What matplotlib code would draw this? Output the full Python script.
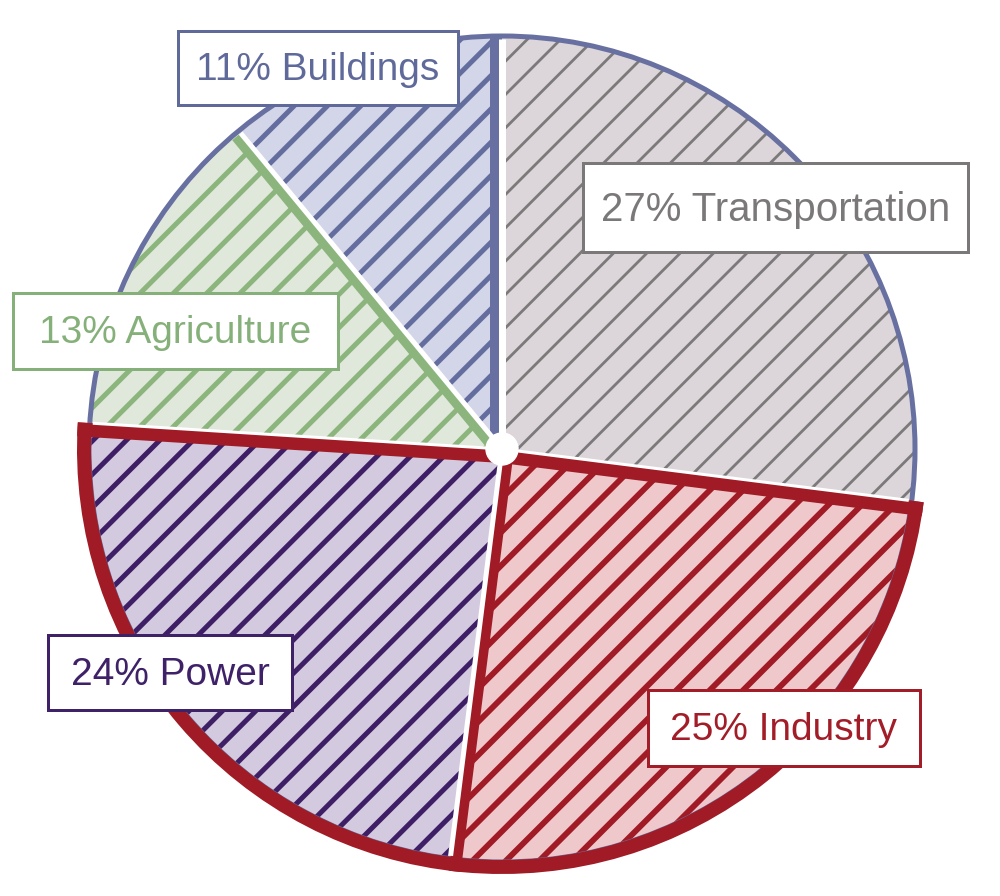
import numpy as np
import matplotlib
matplotlib.use("Agg")
import matplotlib.pyplot as plt
from matplotlib.patches import Wedge, Arc, Circle, Rectangle

# data, clockwise from 12 o'clock
sectors = ["Transportation", "Industry", "Power", "Agriculture", "Buildings"]
shares = [27, 25, 24, 13, 11]
fill_colors = ["#dcd6da", "#efc8cc", "#d3cadf", "#e0e8dc", "#d3d5e8"]
hatch_colors = ["#7b7979", "#a01b25", "#3e1f66", "#8cb57d", "#636d9e"]
label_colors = ["#7b7879", "#a21d28", "#3f2168", "#86b07a", "#5f6a9b"]

# layout (pixel coords, y measured from top like the picture)
W, H = 1000, 896
cx, cy = 502, H - 449
R = 412
hatch_lw = [2.0, 4.2, 3.6, 3.6, 3.6]
boxes = [(583, 163, 968, 252), (648, 690, 920, 766), (48, 635, 292, 710),
         (13, 293, 338, 369), (178, 31, 458, 105)]
font_sizes = [29, 28, 28, 28, 28]
red = "#a01b25"
blue = "#6770a0"
PX = 0.72  # px -> pt at dpi 100

plt.rcParams['font.family'] = ['Liberation Sans Narrow', 'Liberation Sans', 'DejaVu Sans']

fig = plt.figure(figsize=(W / 100, H / 100), dpi=100)
ax = fig.add_axes([0, 0, 1, 1])

# base fill
wedges, _ = ax.pie(shares, colors=fill_colors, startangle=90, counterclock=False,
                   radius=R, center=(cx, cy), wedgeprops=dict(linewidth=0))
ax.set_xlim(0, W)
ax.set_ylim(0, H)
ax.set_aspect("auto")
ax.axis("off")

# slice angles from the data
frac = np.cumsum([0] + shares) / sum(shares)
ang = 90 - 360 * frac  # boundaries
spans = [(ang[i + 1], ang[i]) for i in range(len(shares))]

# hatch layer, one wedge at a time so each gets its own line width
for (t1, t2), c, lw in zip(spans, hatch_colors, hatch_lw):
    with plt.rc_context({'hatch.linewidth': lw}):
        hw = Wedge((cx, cy), R, t1, t2, facecolor="none", edgecolor=c,
                   linewidth=0, hatch="/", zorder=2)
    ax.add_patch(hw)


def sector_clip(t1, t2, r):
    p = Wedge((cx, cy), r, t1, t2)
    p.set_transform(ax.transData)
    return p


def radial(angle, width_px, color, clip=None, r=440, z=3):
    t = np.deg2rad(angle)
    ln, = ax.plot([cx, cx + r * np.cos(t)], [cy, cy + r * np.sin(t)], color=color,
                  lw=width_px * PX, solid_capstyle="butt", zorder=z)
    if clip is not None:
        ln.set_clip_path(clip)
    return ln


# outer blue rim
ax.add_patch(Circle((cx, cy), R + 1, fill=False, edgecolor=blue, lw=5 * PX, zorder=3))

# side lines inside slices (on the clockwise-leading edge)
t1, t2 = spans[4]
radial(t1, 2 * 12, blue, sector_clip(t1, t2, R), z=3)               # Buildings, 12 o'clock
t1, t2 = spans[3]
radial(t1, 2 * 11, hatch_colors[3], sector_clip(t1, t2, R - 2), z=3)  # Agriculture

# red outline round Industry + Power
g1, g2 = spans[2][0], spans[1][1]
ax.add_patch(Arc((cx, cy), 2 * 418, 2 * 418, theta1=g1, theta2=g2,
                 edgecolor=red, lw=14 * PX, zorder=4))
gclip = sector_clip(g1, g2, 425)
radial(g1, 2 * 14, red, gclip, z=4)
radial(g2, 2 * 14, red, gclip, z=4)
t1, t2 = spans[1]
radial(t1, 2 * 12, red, sector_clip(t1, t2, 425), z=4)

# white gaps between slices
gaps = [7, 3, 5, 3, 5]
for a, g in zip(ang[:-1], gaps):
    radial(a, g, "white", r=410, z=5)
ax.add_patch(Circle((cx, cy), 16, color="white", zorder=6))

# labels
for name, v, col, (x0, y0, x1, y1), fs in zip(sectors, shares, label_colors, boxes, font_sizes):
    ax.add_patch(Rectangle((x0, H - y1), x1 - x0, y1 - y0, facecolor="white",
                           edgecolor=col, lw=3 * PX, zorder=7))
    ax.text((x0 + x1) / 2, H - (y0 + y1) / 2 - 2, f"{v}% {name}", color=col,
            fontsize=fs, ha="center", va="center", zorder=8)

fig.savefig("out.png", dpi=100, facecolor="white")
